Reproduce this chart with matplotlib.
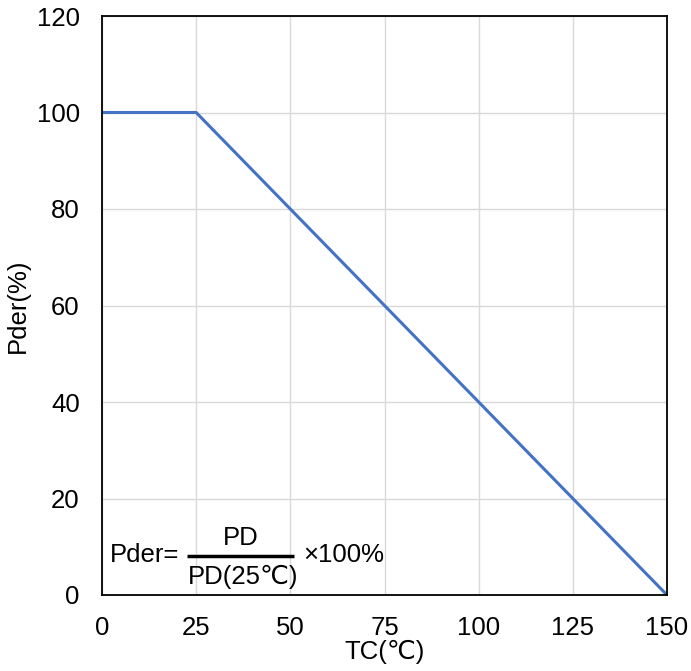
import matplotlib
matplotlib.use("Agg")
import matplotlib.pyplot as plt

tc = [0, 25, 150]
pder = [100, 100, 0]
xticks = [0, 25, 50, 75, 100, 125, 150]
yticks = [0, 20, 40, 60, 80, 100, 120]

plt.rcParams['font.family'] = ['Liberation Sans', 'DejaVu Sans']

fs = 18.5
fig = plt.figure(figsize=(6.91, 6.71), dpi=100)
ax = fig.add_axes([102/691, 1-595/671, (667-102)/691, (595-16)/671])

ax.plot(tc, pder, color='#4472C4', lw=2.2, solid_capstyle='butt')
ax.set_xlim(0, 150)
ax.set_ylim(0, 120)
ax.set_xticks(xticks)
ax.set_yticks(yticks)
ax.grid(True, color='#d9d9d9', lw=1.0)
ax.set_axisbelow(True)
ax.tick_params(axis='x', length=0, labelsize=fs, pad=15)
ax.tick_params(axis='y', length=0, labelsize=fs, pad=16)
for s in ax.spines.values():
    s.set_color('black')
    s.set_linewidth(1.3)

ax.set_xlabel('TC(℃)', fontsize=fs, labelpad=0)
ax.set_ylabel('Pder(%)', fontsize=fs, labelpad=5)

ax.text(2.1, 8.3, 'Pder=', fontsize=fs, ha='left', va='center')
ax.plot([22.6, 51.0], [8.1, 8.1], color='black', lw=2.5, solid_capstyle='butt')
ax.text(36.8, 11.8, 'PD', fontsize=fs, ha='center', va='center')
ax.text(37.4, 3.7, 'PD(25℃)', fontsize=fs, ha='center', va='center')
ax.text(53.4, 8.3, '×100%', fontsize=fs, ha='left', va='center')

fig.savefig('out.png', dpi=100)
